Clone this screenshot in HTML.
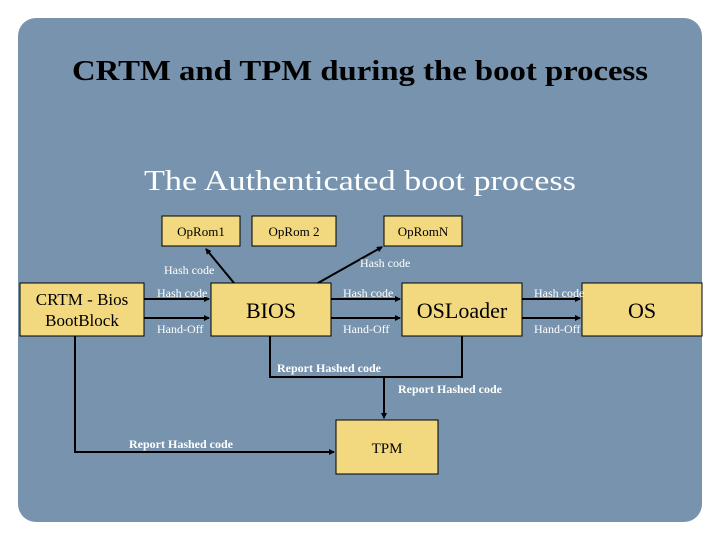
<!DOCTYPE html>
<html><head><meta charset="utf-8"><style>
body{margin:0;width:720px;height:540px;background:#fff;overflow:hidden;font-family:"Liberation Serif",serif}
</style></head><body>
<svg width="720" height="540" xmlns="http://www.w3.org/2000/svg" font-family="Liberation Serif, serif">
<defs><marker id="a" markerWidth="6" markerHeight="6" refX="5" refY="3" orient="auto" markerUnits="userSpaceOnUse"><path d="M0,0 L6,3 L0,6z" fill="#000"/></marker></defs>
<rect x="18" y="18" width="684" height="504" rx="18" fill="#7893ad"/>
<text x="360" y="80" text-anchor="middle" font-size="29" font-weight="bold" fill="#000" textLength="576" lengthAdjust="spacingAndGlyphs">CRTM and TPM during the boot process</text>
<text x="360" y="190" text-anchor="middle" font-size="29" fill="#fff" textLength="432" lengthAdjust="spacingAndGlyphs">The Authenticated boot process</text>
<g fill="#f2d87e" stroke="#000" stroke-width="1">
<rect x="162" y="216" width="78" height="30"/>
<rect x="252" y="216" width="84" height="30"/>
<rect x="384" y="216" width="78" height="30"/>
<rect x="20" y="283" width="124" height="53"/>
<rect x="211" y="283" width="120" height="53"/>
<rect x="402" y="283" width="120" height="53"/>
<rect x="582" y="283" width="120" height="53"/>
<rect x="336" y="420" width="102" height="54"/>
</g>
<g font-size="13" text-anchor="middle" fill="#000">
<text x="201" y="236">OpRom1</text><text x="294" y="236">OpRom 2</text><text x="423" y="236">OpRomN</text>
</g>
<g font-size="17" text-anchor="middle"><text x="82" y="305">CRTM - Bios</text><text x="82" y="326">BootBlock</text></g>
<g font-size="22" text-anchor="middle"><text x="271" y="318">BIOS</text><text x="462" y="318">OSLoader</text><text x="642" y="318">OS</text></g>
<text x="387" y="453" font-size="15" text-anchor="middle">TPM</text>
<g stroke="#000" stroke-width="2" fill="none">
<line x1="144" y1="299" x2="209" y2="299" marker-end="url(#a)"/>
<line x1="144" y1="318" x2="209" y2="318" marker-end="url(#a)"/>
<line x1="331" y1="299" x2="400" y2="299" marker-end="url(#a)"/>
<line x1="331" y1="318" x2="400" y2="318" marker-end="url(#a)"/>
<line x1="522" y1="299" x2="580" y2="299" marker-end="url(#a)"/>
<line x1="522" y1="318" x2="580" y2="318" marker-end="url(#a)"/>
<line x1="234" y1="283" x2="206" y2="249" marker-end="url(#a)"/>
<line x1="318" y1="283" x2="382" y2="247" marker-end="url(#a)"/>
<polyline points="75,336 75,452 334,452" marker-end="url(#a)"/>
<polyline points="270,336 270,377 462,377 462,336"/>
<line x1="384" y1="377" x2="384" y2="418" marker-end="url(#a)"/>
</g>
<g font-size="12" fill="#fff">
<text x="164" y="274">Hash code</text><text x="360" y="267">Hash code</text>
<text x="157" y="297">Hash code</text><text x="157" y="333">Hand-Off</text>
<text x="343" y="297">Hash code</text><text x="343" y="333">Hand-Off</text>
<text x="534" y="297">Hash code</text><text x="534" y="333">Hand-Off</text>
</g>
<g font-size="12" font-weight="bold" fill="#fff">
<text x="277" y="372">Report Hashed code</text>
<text x="398" y="393">Report Hashed code</text>
<text x="129" y="448">Report Hashed code</text>
</g>
</svg>
</body></html>
